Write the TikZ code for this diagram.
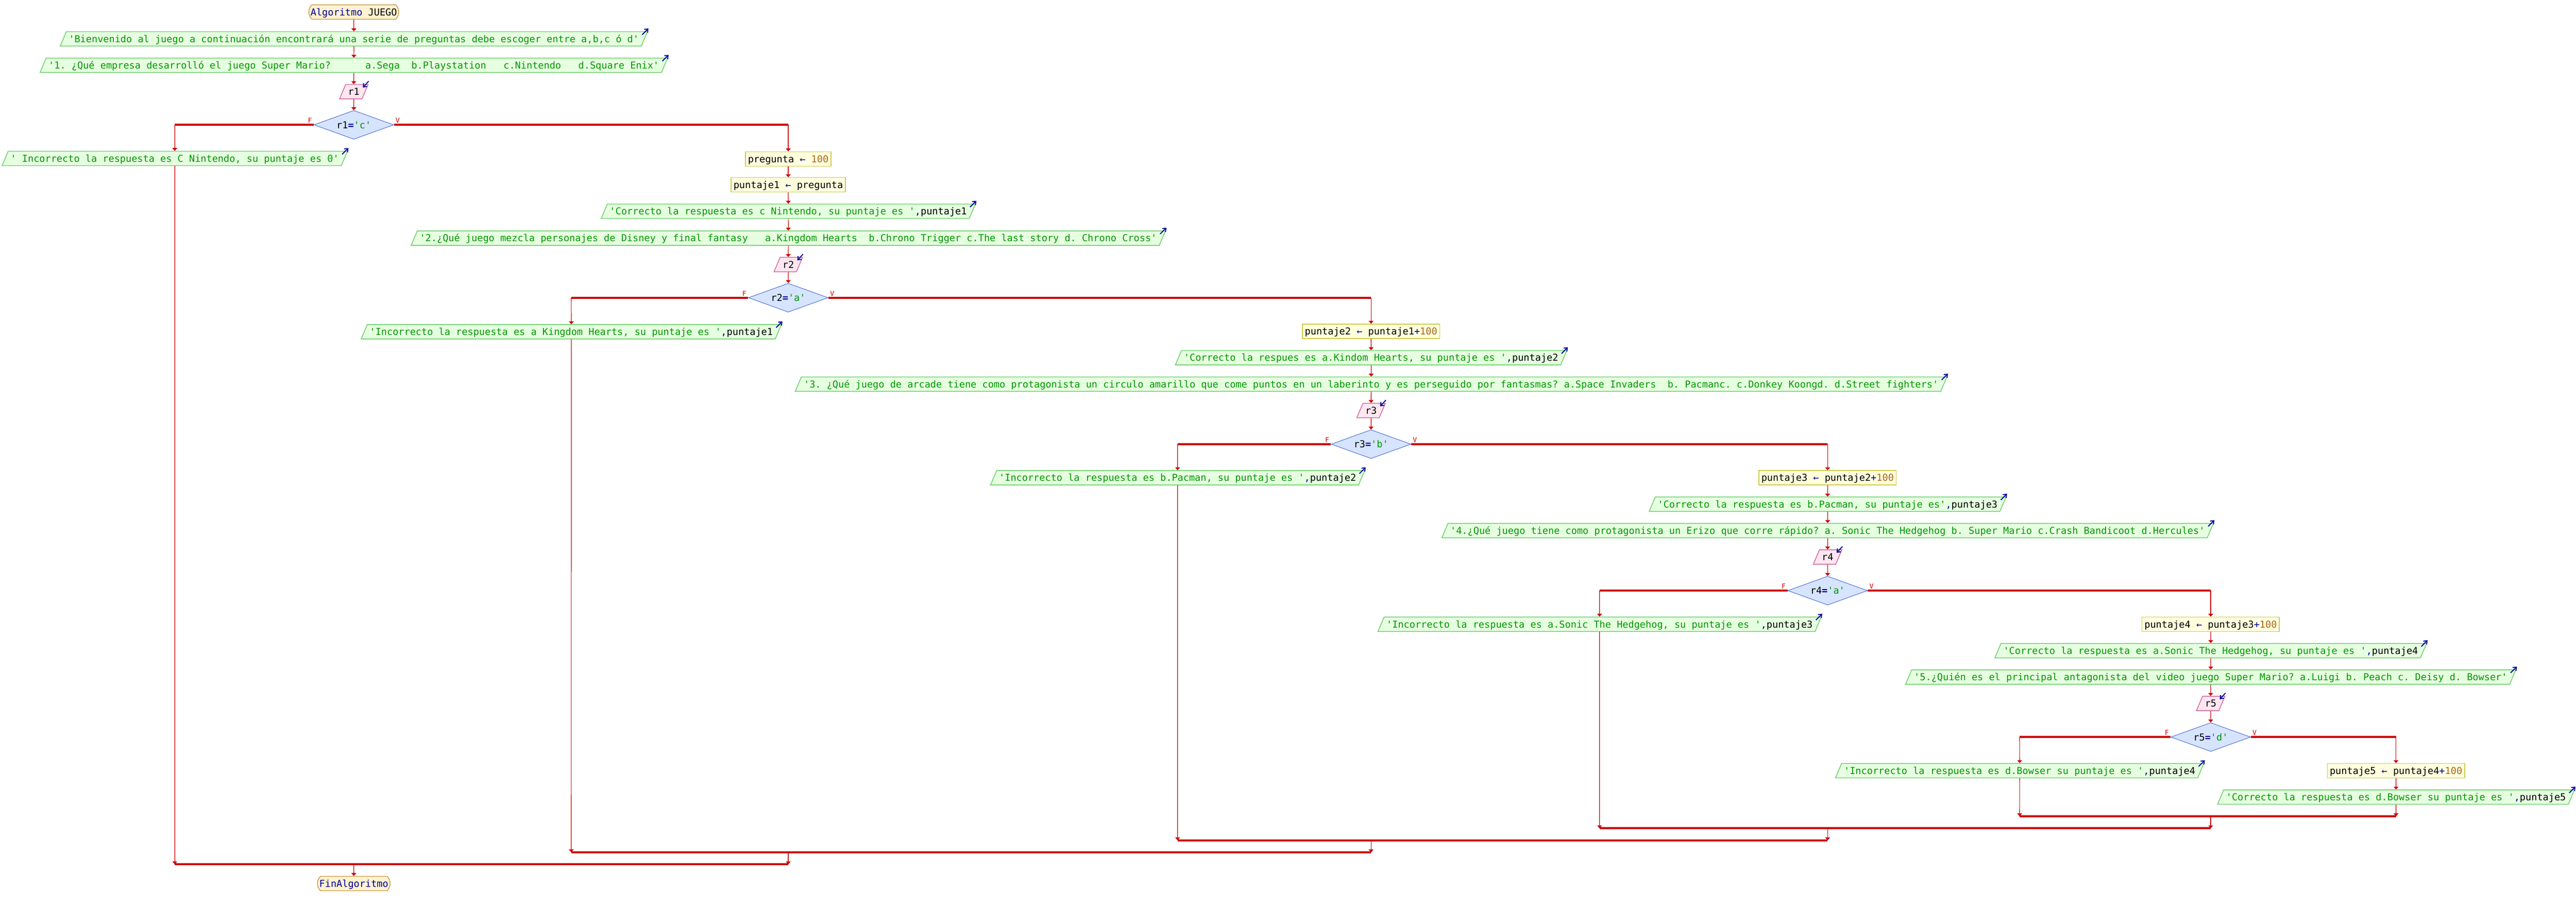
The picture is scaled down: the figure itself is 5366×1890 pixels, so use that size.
\documentclass[tikz,border=0pt]{standalone}
\usepackage{fontspec}
\setmonofont{DejaVu Sans Mono}
\usetikzlibrary{shapes.geometric,shapes.misc,arrows.meta}

\definecolor{flecha}{RGB}{204,0,0}
\definecolor{verdecad}{RGB}{0,150,0}
\definecolor{azulop}{RGB}{0,0,153}
\definecolor{marronnum}{RGB}{170,100,30}
\definecolor{fondosal}{RGB}{230,255,224}
\definecolor{bordesal}{RGB}{102,204,102}
\definecolor{fondoent}{RGB}{255,230,240}
\definecolor{bordeent}{RGB}{204,102,153}
\definecolor{fondoasig}{RGB}{255,255,221}
\definecolor{bordeasig}{RGB}{204,204,80}
\definecolor{fondocond}{RGB}{214,228,255}
\definecolor{bordecond}{RGB}{68,102,204}
\definecolor{fondoterm}{RGB}{255,242,208}
\definecolor{bordeterm}{RGB}{200,150,70}

\newcommand{\pfont}{\ttfamily\fontsize{5.67pt}{6.8pt}\selectfont}
\newcommand{\cad}[1]{\textcolor{verdecad}{#1}}
\newcommand{\coma}{\textcolor{azulop}{,}}
\newcommand{\asig}{\textcolor{azulop}{←}}
\newcommand{\mas}{\textcolor{azulop}{+}}
\newcommand{\igual}{\textcolor{azulop}{\bfseries =}}
\newcommand{\cien}{\textcolor{marronnum}{100}}

\begin{document}
\begin{tikzpicture}[x=0.1mm,y=-0.1mm,
	caja/.style={font=\pfont, text height=1.55mm, text depth=0.1mm, inner xsep=0.5mm, inner ysep=0.675mm, line width=0.15mm},
	salida/.style={caja, trapezium, trapezium left angle=67, trapezium right angle=113, draw=bordesal, fill=fondosal},
	entrada/.style={salida, draw=bordeent, fill=fondoent},
	asig/.style={caja, rectangle, draw=bordeasig, fill=fondoasig},
	cond/.style={caja, diamond, aspect=2.75, minimum width=16.6mm, minimum height=6mm, inner sep=0pt, draw=bordecond, fill=fondocond, line width=0.1mm},
	term/.style={caja, rounded rectangle, rounded rectangle arc length=90, inner xsep=0.2mm, draw=bordeterm, fill=fondoterm},
	flujo/.style={draw=flecha, line width=0.13mm, -{Triangle[length=0.6mm,width=1mm]}},
	rama/.style={draw=flecha, line width=0.4mm},
	lbl/.style={font=\ttfamily\fontsize{4pt}{4pt}\selectfont, text=flecha, inner sep=0.3mm},
	marcasal/.style={draw=azulop, line width=0.2mm, -{Straight Barb[length=0.6mm,width=1mm]}}]
	\useasboundingbox (0,0) rectangle (5366,1890);
	\fill[white] (0,0) rectangle (5366,1890);
	
	\node[term] (inicio) at (737,25) {\textcolor{azulop}{Algoritmo} JUEGO};
	\node[salida] (o1) at (737,81) {\cad{'Bienvenido al juego a continuación encontrará una serie de preguntas debe escoger entre a,b,c ó d'}};
	\node[salida] (o2) at (737,136) {\cad{'1. ¿Qué empresa desarrolló el juego Super Mario?~~~~~~a.Sega~~b.Playstation~~~c.Nintendo~~~d.Square Enix'}};
	\node[entrada] (i1) at (737,191) {r1};
	\node[cond] (d1) at (737,260) {r1\igual\cad{'c'}};
	\node[salida] (o3) at (364,330) {\cad{' Incorrecto la respuesta es C Nintendo, su puntaje es 0'}};
	\node[asig] (a1) at (1642,331) {pregunta \asig{} \cien};
	\node[asig] (a2) at (1642,385) {puntaje1 \asig{} pregunta};
	\node[salida] (o4) at (1642,440) {\cad{'Correcto la respuesta es c Nintendo, su puntaje es '}\coma puntaje1};
	\node[salida] (o5) at (1642,496) {\cad{'2.¿Qué juego mezcla personajes de Disney y final fantasy~~~a.Kingdom Hearts~~b.Chrono Trigger c.The last story d. Chrono Cross'}};
	\node[entrada] (i2) at (1642,551) {r2};
	\node[cond] (d2) at (1642,620) {r2\igual\cad{'a'}};
	\node[salida] (o6) at (1190,691) {\cad{'Incorrecto la respuesta es a Kingdom Hearts, su puntaje es '}\coma puntaje1};
	\node[asig] (a3) at (2856,690) {puntaje2 \asig{} puntaje1\mas\cien};
	\node[salida] (o7) at (2856,745) {\cad{'Correcto la respues es a.Kindom Hearts, su puntaje es '}\coma puntaje2};
	\node[salida] (o8) at (2856,800) {\cad{'3. ¿Qué juego de arcade tiene como protagonista un circulo amarillo que come puntos en un laberinto y es perseguido por fantasmas? a.Space Invaders~~b. Pacmanc. c.Donkey Koongd. d.Street fighters'}};
	\node[entrada] (i3) at (2856,855) {r3};
	\node[cond] (d3) at (2856,925) {r3\igual\cad{'b'}};
	\node[salida] (o9) at (2453,995) {\cad{'Incorrecto la respuesta es b.Pacman, su puntaje es '}\coma puntaje2};
	\node[asig] (a4) at (3807,995) {puntaje3 \asig{} puntaje2\mas\cien};
	\node[salida] (o10) at (3807,1050) {\cad{'Correcto la respuesta es b.Pacman, su puntaje es'}\coma puntaje3};
	\node[salida] (o11) at (3807,1105) {\cad{'4.¿Qué juego tiene como protagonista un Erizo que corre rápido? a. Sonic The Hedgehog b. Super Mario c.Crash Bandicoot d.Hercules'}};
	\node[entrada] (i4) at (3807,1160) {r4};
	\node[cond] (d4) at (3807,1230) {r4\igual\cad{'a'}};
	\node[salida] (o12) at (3332,1300) {\cad{'Incorrecto la respuesta es a.Sonic The Hedgehog, su puntaje es '}\coma puntaje3};
	\node[asig] (a5) at (4605,1300) {puntaje4 \asig{} puntaje3\mas\cien};
	\node[salida] (o13) at (4605,1355) {\cad{'Correcto la respuesta es a.Sonic The Hedgehog, su puntaje es '}\coma puntaje4};
	\node[salida] (o14) at (4605,1410) {\cad{'5.¿Quién es el principal antagonista del video juego Super Mario? a.Luigi b. Peach c. Deisy d. Bowser'}};
	\node[entrada] (i5) at (4605,1465) {r5};
	\node[cond] (d5) at (4605,1535) {r5\igual\cad{'d'}};
	\node[salida] (o15) at (4207,1605) {\cad{'Incorrecto la respuesta es d.Bowser su puntaje es '}\coma puntaje4};
	\node[asig] (a6) at (4991,1605) {puntaje5 \asig{} puntaje4\mas\cien};
	\node[salida] (o16) at (4991,1660) {\cad{'Correcto la respuesta es d.Bowser su puntaje es '}\coma puntaje5};
	\node[term] (fin) at (737,1840) {\textcolor{azulop}{FinAlgoritmo}};
	
	% marcas de escritura y lectura
	\foreach \i in {1,...,16}
	\draw[marcasal] ([shift={(-12,7)}]o\i.top right corner) -- ++(13,-13);
	\foreach \i in {1,...,5}
	\draw[marcasal] ([shift={(0,-6)}]i\i.top right corner) -- ++(-12,13);
	
	\foreach \a/\b in {inicio/o1,o1/o2,o2/i1,i1/d1,a1/a2,a2/o4,o4/o5,o5/i2,i2/d2,a3/o7,o7/o8,o8/i3,i3/d3,a4/o10,o10/o11,o11/i4,i4/d4,a5/o13,o13/o14,o14/i5,i5/d5,a6/o16}
	\draw[flujo] (\a) -- (\b);
	
	\foreach \dec/\fal/\ver in {d1/o3/a1,d2/o6/a3,d3/o9/a4,d4/o12/a5,d5/o15/a6} {
		\draw[rama] (\dec.west) -- (\dec.west -| \fal);
		\draw[flujo] (\dec.west -| \fal) -- (\fal);
		\draw[rama] (\dec.east) -- (\dec.east -| \ver);
		\draw[flujo] (\dec.east -| \ver) -- (\ver);
		\node[lbl,above left] (F-\dec) at (\dec.west) {F};
		\node[lbl,above right] (V-\dec) at (\dec.east) {V};
	}
	
	% cierre de las condiciones
	\coordinate (m5) at (d5 |- 0,1700);
	\coordinate (m4) at (d4 |- 0,1725);
	\coordinate (m3) at (d3 |- 0,1750);
	\coordinate (m2) at (d2 |- 0,1775);
	\coordinate (m1) at (d1 |- 0,1800);
	\draw[flujo] (o15) -- (o15 |- m5);
	\draw[flujo] (o16) -- (o16 |- m5);
	\draw[rama] (o15 |- m5) -- (o16 |- m5);
	\draw[flujo] (m5) -- (m5 |- m4);
	\draw[flujo] (o12) -- (o12 |- m4);
	\draw[rama] (o12 |- m4) -- (m5 |- m4);
	\draw[flujo] (m4) -- (m4 |- m3);
	\draw[flujo] (o9) -- (o9 |- m3);
	\draw[rama] (o9 |- m3) -- (m4 |- m3);
	\draw[flujo] (m3) -- (m3 |- m2);
	\draw[flujo] (o6) -- (o6 |- m2);
	\draw[rama] (o6 |- m2) -- (m3 |- m2);
	\draw[flujo] (m2) -- (m2 |- m1);
	\draw[flujo] (o3) -- (o3 |- m1);
	\draw[rama] (o3 |- m1) -- (m2 |- m1);
	\draw[flujo] (m1) -- (fin);
\end{tikzpicture}
\end{document}
